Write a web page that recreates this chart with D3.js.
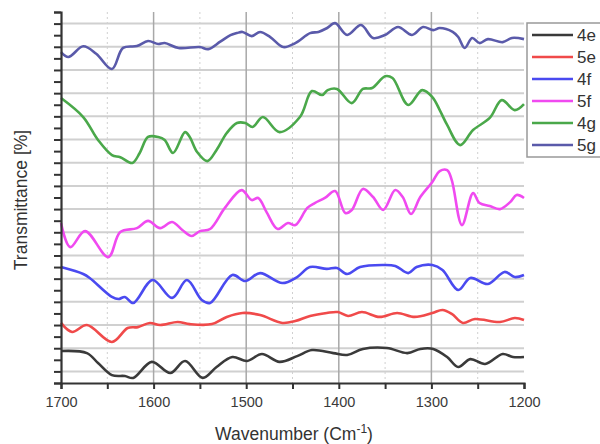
<!DOCTYPE html>
<html>
<head>
<meta charset="utf-8">
<script src="https://cdn.jsdelivr.net/npm/d3@7"></script>
<style>
  body { margin: 0; background: #fff; }
  text { font-family: "Liberation Sans", Arial, sans-serif; }
</style>
</head>
<body>
<svg id="chart-area" width="600" height="444"></svg>
<script>
// spectra: [wavenumber, offset transmittance]
var s4e = [[1700,1.38],[1672,1.29],[1660,0.86],[1645,0.34],[1631,0.30],[1622,0.22],[1602,0.91],[1582,0.43],[1566,0.95],[1547,0.22],[1532,0.69],[1515,1.12],[1499,0.95],[1483,1.25],[1464,0.91],[1445,1.16],[1429,1.42],[1406,1.29],[1391,1.21],[1374,1.47],[1348,1.51],[1326,1.29],[1312,1.47],[1298,1.47],[1283,1.12],[1271,0.69],[1258,1.03],[1242,0.82],[1223,1.25],[1212,1.12],[1200,1.12]];
var s5e = [[1700,2.59],[1688,2.20],[1672,2.50],[1645,1.77],[1628,2.37],[1617,2.41],[1604,2.59],[1593,2.50],[1574,2.63],[1561,2.54],[1537,2.54],[1521,2.85],[1504,3.02],[1485,2.93],[1461,2.59],[1447,2.67],[1431,2.89],[1413,3.02],[1401,3.06],[1390,2.89],[1375,3.06],[1356,2.85],[1337,3.02],[1318,2.85],[1299,3.02],[1288,3.15],[1278,2.98],[1266,2.59],[1253,2.76],[1226,2.63],[1210,2.80],[1200,2.72]];
var s4f = [[1700,5.00],[1676,4.70],[1669,4.53],[1645,3.71],[1638,3.62],[1631,3.71],[1622,3.45],[1601,4.44],[1580,3.67],[1564,4.44],[1548,3.58],[1539,3.45],[1515,4.66],[1501,4.40],[1485,4.74],[1461,4.31],[1445,4.57],[1431,5.00],[1413,4.92],[1402,4.96],[1391,4.70],[1377,5.00],[1353,5.09],[1339,5.05],[1325,4.74],[1316,5.00],[1299,5.09],[1288,4.87],[1271,4.01],[1258,4.53],[1239,4.27],[1221,4.79],[1210,4.57],[1200,4.66]];
var s5f = [[1700,6.90],[1690,5.86],[1674,6.55],[1649,5.43],[1636,6.51],[1618,6.68],[1606,6.99],[1593,6.68],[1580,6.94],[1569,6.60],[1559,6.34],[1550,6.55],[1539,6.64],[1523,7.55],[1505,8.32],[1494,7.89],[1487,7.98],[1478,7.37],[1466,6.64],[1455,6.90],[1447,6.81],[1434,7.55],[1426,7.76],[1415,7.98],[1404,8.28],[1393,7.33],[1386,7.46],[1374,8.37],[1363,8.02],[1352,7.46],[1339,8.32],[1331,8.02],[1322,7.29],[1312,8.02],[1299,8.67],[1291,9.14],[1283,9.18],[1278,8.75],[1267,6.81],[1255,8.19],[1248,7.76],[1237,7.63],[1226,7.50],[1215,7.80],[1208,8.11],[1200,7.98]];
var s4g = [[1700,12.29],[1676,11.47],[1660,10.48],[1645,9.83],[1636,9.74],[1623,9.49],[1615,9.92],[1606,10.61],[1595,10.61],[1588,10.48],[1579,9.92],[1566,10.82],[1561,10.61],[1553,9.96],[1542,9.57],[1532,10.05],[1521,10.78],[1510,11.21],[1501,11.21],[1493,11.04],[1482,11.47],[1464,10.82],[1442,11.47],[1429,12.59],[1418,12.42],[1412,12.63],[1402,12.68],[1386,12.07],[1374,12.68],[1364,12.72],[1350,13.23],[1342,13.15],[1325,11.99],[1310,12.63],[1299,12.33],[1291,11.77],[1283,11.13],[1269,10.26],[1255,10.91],[1237,11.43],[1224,12.20],[1210,11.77],[1200,12.03]];
var s5g = [[1700,14.27],[1692,14.06],[1676,14.52],[1662,14.20],[1645,13.54],[1633,14.45],[1618,14.53],[1606,14.75],[1595,14.62],[1588,14.66],[1573,14.45],[1550,14.49],[1541,14.40],[1528,14.72],[1517,15.00],[1510,15.09],[1504,15.14],[1494,14.96],[1485,15.14],[1474,14.92],[1460,14.49],[1447,14.66],[1431,15.09],[1422,15.14],[1413,15.30],[1404,15.52],[1391,15.01],[1376,15.44],[1363,14.88],[1350,15.01],[1336,15.35],[1321,15.01],[1309,15.35],[1298,15.22],[1291,15.31],[1277,15.14],[1271,14.92],[1264,14.45],[1256,14.88],[1248,14.66],[1239,14.83],[1223,14.70],[1213,14.88],[1200,14.83]];

var seriesNames = ["4e", "5e", "4f", "5f", "4g", "5g"];
var seriesData = [s4e, s5e, s4f, s5f, s4g, s5g];
var seriesColors = ["#3a3a3a", "#f04a4a", "#4a4af0", "#f04af0", "#4aa84a", "#5a5aaa"];

var xTicks = [1700, 1650, 1600, 1550, 1500, 1450, 1400, 1350, 1300, 1250, 1200];

var chart = {
  margin: { left: 61, right: 76, top: 12, bottom: 61 },
  width: 0, height: 0,
  svg: '', g: '',
  scale: { x: '', y: '' }
};

chart.width = 600 - chart.margin.left - chart.margin.right;
chart.height = 444 - chart.margin.top - chart.margin.bottom;

chart.svg = d3.select("#chart-area");
chart.g = chart.svg.append("g")
    .attr("transform", "translate(" + chart.margin.left + "," + chart.margin.top + ")");

// scales
chart.scale.x = d3.scaleLinear().domain([1700, 1200]).range([0, chart.width]);
chart.scale.y = d3.scaleLinear().domain([0, 16]).range([chart.height, 0]);

// horizontal grid (between the ticks)
chart.g.append("g").attr("class", "hgrid")
  .selectAll("line")
  .data(d3.range(0.5, 16, 1))
  .enter().append("line")
    .attr("x1", 0).attr("x2", chart.width)
    .attr("y1", function(d){ return chart.scale.y(d); })
    .attr("y2", function(d){ return chart.scale.y(d); })
    .attr("stroke", "#d0d0d0")
    .attr("stroke-width", 2);

// vertical grid, solid at hundreds, dotted at fifties
chart.g.append("g").attr("class", "vgrid")
  .selectAll("line")
  .data(xTicks.slice(1, -1))
  .enter().append("line")
    .attr("x1", function(d){ return chart.scale.x(d); })
    .attr("x2", function(d){ return chart.scale.x(d); })
    .attr("y1", 0).attr("y2", chart.height)
    .attr("stroke", function(d){ return d % 100 == 0 ? "#a8a8a8" : "#d0d0d0"; })
    .attr("stroke-width", function(d){ return d % 100 == 0 ? 1.5 : 1; })
    .attr("stroke-dasharray", function(d){ return d % 100 == 0 ? null : "2,3"; });

// curves
var line = d3.line()
    .x(function(d){ return chart.scale.x(d[0]); })
    .y(function(d){ return chart.scale.y(d[1]); })
    .curve(d3.curveCatmullRom.alpha(0.5));

chart.g.append("g").attr("class", "curves")
  .selectAll("path")
  .data(seriesData)
  .enter().append("path")
    .attr("d", line)
    .attr("fill", "none")
    .attr("stroke", function(d, i){ return seriesColors[i]; })
    .attr("stroke-width", 2.6)
    .attr("stroke-linejoin", "round");

// axes
var yAxis = chart.g.append("g").attr("class", "y-axis")
  .call(d3.axisLeft(chart.scale.y)
    .tickValues(d3.range(0, 16.01, 0.5))
    .tickSize(7)
    .tickFormat(""));

var xAxis = chart.g.append("g").attr("class", "x-axis")
  .attr("transform", "translate(0," + chart.height + ")")
  .call(d3.axisBottom(chart.scale.x)
    .tickValues(xTicks)
    .tickSize(6)
    .tickPadding(8)
    .tickFormat(function(d){ return d % 100 == 0 ? d : ""; }));

chart.g.selectAll(".domain")
    .attr("stroke", "#333")
    .attr("stroke-width", 2.2);
chart.g.selectAll(".tick line")
    .attr("stroke", "#333")
    .attr("stroke-width", 2);
xAxis.selectAll(".tick text")
    .attr("font-size", "14.5px")
    .attr("fill", "#3a3a3a")
    .attr("font-family", "Liberation Sans, Arial, sans-serif");

// labels
var labelX = chart.svg.append("text")
  .attr("x", 294)
  .attr("y", 440)
  .attr("text-anchor", "middle")
  .attr("font-size", "17.5px")
  .attr("fill", "#333");
labelX.append("tspan").text("Wavenumber (Cm");
labelX.append("tspan").attr("dy", -7).attr("font-size", "12px").text("-1");
labelX.append("tspan").attr("dy", 7).text(")");

chart.svg.append("text")
  .attr("transform", "translate(27,200) rotate(-90)")
  .attr("text-anchor", "middle")
  .attr("font-size", "17.5px")
  .attr("fill", "#333")
  .text("Transmittance [%]");

// legend
var legend = chart.svg.append("g").attr("class", "legend")
  .attr("transform", "translate(527,23)");

legend.append("rect")
  .attr("x", 0).attr("y", 0)
  .attr("width", 80).attr("height", 134)
  .attr("fill", "#fff")
  .attr("stroke", "#999")
  .attr("stroke-width", 1.5);

var entry = legend.selectAll(".entry")
  .data(seriesNames)
  .enter().append("g")
    .attr("class", "entry")
    .attr("transform", function(d, i){ return "translate(0," + (12 + i * 22) + ")"; });

entry.append("line")
  .attr("x1", 5).attr("x2", 46)
  .attr("stroke", function(d, i){ return seriesColors[i]; })
  .attr("stroke-width", 2.6);

entry.append("text")
  .attr("x", 50).attr("y", 6)
  .attr("font-size", "17px")
  .attr("fill", "#333")
  .text(function(d){ return d; });
</script>
</body>
</html>
